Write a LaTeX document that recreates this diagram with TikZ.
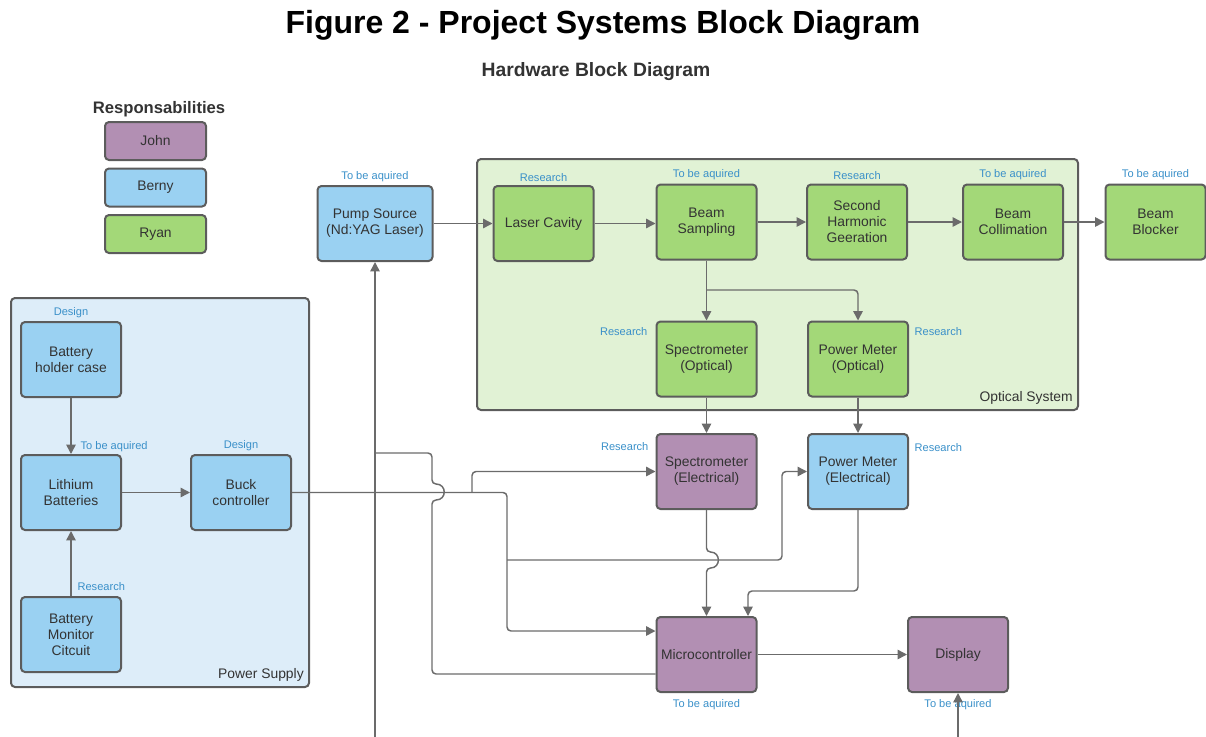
\documentclass[tikz,border=0pt]{standalone}
\usepackage{fontspec}
\setmainfont{Liberation Sans}
\usetikzlibrary{arrows.meta,positioning}
\definecolor{edge}{HTML}{5C5C5C}
\definecolor{wire}{HTML}{6B6B6B}
\definecolor{ink}{HTML}{333333}
\definecolor{tagblue}{HTML}{3A90C9}
\definecolor{purp}{HTML}{B28FB3}
\definecolor{sky}{HTML}{9AD1F2}
\definecolor{leaf}{HTML}{A3D878}
\definecolor{skybg}{HTML}{DDEDF9}
\definecolor{leafbg}{HTML}{E1F2D5}

\begin{document}
\begin{tikzpicture}[x=0.75pt,y=-0.75pt,
  blk/.style={draw=edge,line width=1.5pt,rounded corners=3pt,minimum width=75pt,
              minimum height=56.25pt,align=center,text=ink,inner sep=2pt,
              font=\fontsize{10.4}{12}\selectfont},
  jo/.style={blk,fill=purp},
  be/.style={blk,fill=sky},
  ry/.style={blk,fill=leaf},
  key/.style={minimum width=75.75pt,minimum height=28.5pt},
  grp/.style={draw=edge,line width=1.5pt,rounded corners=3pt,anchor=north west,inner sep=0pt},
  tag/.style={text=tagblue,font=\fontsize{8.3}{10}\selectfont,inner sep=1pt},
  grplabel/.style={text=ink,font=\fontsize{10.4}{12}\selectfont,anchor=south east,inner sep=4.5pt},
  a/.style={draw=wire,line width=1.1pt,rounded corners=3pt,-{Triangle[length=7pt,width=7pt]}},
  ln/.style={draw=wire,line width=1.1pt,rounded corners=3pt}
]
  \useasboundingbox (0,0) rectangle (1206,736);

  % headings
  \node[font=\bfseries\fontsize{24}{28}\selectfont] (title) at (603,25) {Figure 2 - Project Systems Block Diagram};
  \node[font=\bfseries\fontsize{14.5}{17}\selectfont,text=ink] (subtitle) at (596,71.5) {Hardware Block Diagram};

  % legend
  \node[font=\bfseries\fontsize{12.5}{14}\selectfont,text=ink] (resp) at (159,109) {Responsabilities};
  \node[jo,key] (john) at (155.5,141) {John};
  \node[be,key] (berny) at (155.5,187.5) {Berny};
  \node[ry,key] (ryan) at (155.5,234) {Ryan};

  % groups
  \node[grp,fill=leafbg,minimum width=450.75pt,minimum height=188.25pt] (optic) at (476,158) {};
  \node[grplabel] (opticL) at (optic.south east) {Optical System};
  \node[grp,fill=skybg,minimum width=223.5pt,minimum height=291.75pt] (supply) at (10,297) {};
  \node[grplabel] (supplyL) at (supply.south east) {Power Supply};

  % optical chain
  \node[be,minimum width=86.25pt] (pump) at (375,223.5) {Pump Source\\(Nd:YAG Laser)};
  \node[ry] (cavity) at (543.5,223.5) {Laser Cavity};
  \node[ry] (sample) at (706.5,222) {Beam\\Sampling};
  \node[ry] (shg) at (857,222) {Second\\Harmonic\\Geeration};
  \node[ry] (collim) at (1013,222) {Beam\\Collimation};
  \node[ry] (blocker) at (1155.5,222) {Beam\\Blocker};
  \node[ry] (specopt) at (706.5,359) {Spectrometer\\(Optical)};
  \node[ry] (pmopt) at (858,359) {Power Meter\\(Optical)};

  % electronics
  \node[jo] (specel) at (706.5,471.5) {Spectrometer\\(Electrical)};
  \node[be] (pmel) at (858,471.5) {Power Meter\\(Electrical)};
  \node[jo] (mcu) at (706.5,654.5) {Microcontroller};
  \node[jo] (display) at (958,654.5) {Display};

  % power supply
  \node[be] (holder) at (71,359.5) {Battery\\holder case};
  \node[be] (lithium) at (71,492.5) {Lithium\\Batteries};
  \node[be] (buck) at (241,492.5) {Buck\\controller};
  \node[be] (monitor) at (71,634.5) {Battery\\Monitor\\Citcuit};

  % status tags
  \node[tag,above=1.5pt of pump] (pumpT) {To be aquired};
  \node[tag,above=1.5pt of cavity] (cavityT) {Research};
  \node[tag,above=1.5pt of sample] (sampleT) {To be aquired};
  \node[tag,above=1.5pt of shg] (shgT) {Research};
  \node[tag,above=1.5pt of collim] (collimT) {To be aquired};
  \node[tag,above=1.5pt of blocker] (blockerT) {To be aquired};
  \node[tag,anchor=east] (specoptT) at (649,332) {Research};
  \node[tag,anchor=west] (pmoptT) at (913,332) {Research};
  \node[tag,anchor=east] (specelT) at (650,446.5) {Research};
  \node[tag,anchor=west] (pmelT) at (913,447.5) {Research};
  \node[tag,below=4pt of mcu] (mcuT) {To be aquired};
  \node[tag,below=3.5pt of display] (displayT) {To be aquired};
  \node[tag,above=1.5pt of holder] (holderT) {Design};
  \node[tag,anchor=west] (lithiumT) at (79,446.5) {To be aquired};
  \node[tag,above=1.5pt of buck] (buckT) {Design};
  \node[tag,anchor=west] (monitorT) at (76,587) {Research};

  % beam path
  \draw[a] (pump) -- (cavity);
  \draw[a] (cavity.east) -- (cavity.east -| sample.west);
  \draw[a] (sample) -- (shg);
  \draw[a] (shg) -- (collim);
  \draw[a] (collim) -- (blocker);
  \draw[a] (sample) -- (specopt);
  \coordinate (split) at (706.5,290);
  \draw[a] (split) -| (pmopt.north);
  \draw[a] (specopt) -- (specel);
  \draw[a] (pmopt) -- (pmel);

  % supply side
  \draw[a] (holder) -- (lithium);
  \draw[a] (monitor) -- (lithium);
  \draw[a] (lithium) -- (buck);

  % wiring
  \coordinate (feed) at (375,737);
  \draw[a] (feed) -- (pump);
  \draw[a] (buck) -| (507,631) -- (mcu.west |- 507,631);
  \coordinate (tapS) at (472,492.5);
  \draw[a] (tapS) |- (specel);
  \coordinate (tapP) at (507,560);
  \draw[a] (tapP) -- (782,560) |- (pmel);
  \draw[a] (specel) -- (706.5,552) .. controls (721,552) and (721,568) .. (706.5,568) -- (mcu);
  \draw[a] (pmel) |- (748,591) -- (mcu.north -| 748,0);
  \coordinate (tapM) at (375,453);
  \draw[ln] (mcu.west |- 432,674) -| (432,500) .. controls (447,500) and (447,484) .. (432,484) |- (tapM);
  \draw[a] (mcu) -- (display);
  \coordinate (dfeed) at (958,737);
  \draw[a] (dfeed) -- (display);
\end{tikzpicture}
\end{document}
